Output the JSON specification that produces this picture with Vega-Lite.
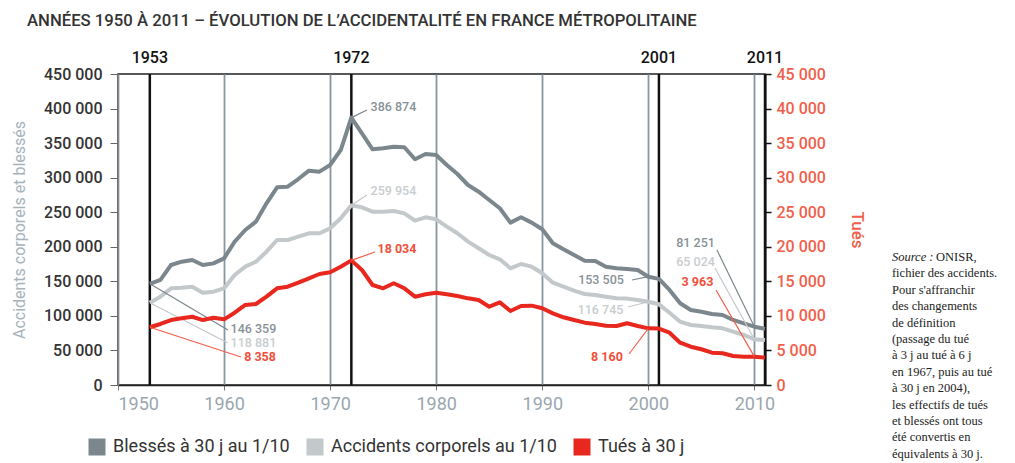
{
  "$schema": "https://vega.github.io/schema/vega-lite/v6.json",
  "width": 647,
  "height": 311,
  "autosize": "none",
  "padding": {"left": 118, "top": 74, "right": 250, "bottom": 78},
  "background": "white",
  "title": {
    "text": "ANNÉES 1950 À 2011 – ÉVOLUTION DE L’ACCIDENTALITÉ EN FRANCE MÉTROPOLITAINE",
    "anchor": "start",
    "frame": "group",
    "dx": -91,
    "offset": 20,
    "fontSize": 16.7,
    "fontWeight": 500,
    "color": "#333333",
    "font": "Roboto"
  },
  "config": {
    "font": "Roboto",
    "view": {"stroke": "#222222", "strokeWidth": 1.5},
    "axisY": {"tickCount": 10, "labelOverlap": false}
  },
  "datasets": {
    "main": [
      {"year": 1953, "Blessés à 30 j au 1/10": 146359, "Accidents corporels au 1/10": 118881, "Tués à 30 j": 8358},
      {"year": 1954, "Blessés à 30 j au 1/10": 152000, "Accidents corporels au 1/10": 127800, "Tués à 30 j": 8830},
      {"year": 1955, "Blessés à 30 j au 1/10": 173600, "Accidents corporels au 1/10": 139900, "Tués à 30 j": 9400},
      {"year": 1956, "Blessés à 30 j au 1/10": 178400, "Accidents corporels au 1/10": 140800, "Tués à 30 j": 9650},
      {"year": 1957, "Blessés à 30 j au 1/10": 180900, "Accidents corporels au 1/10": 142200, "Tués à 30 j": 9880},
      {"year": 1958, "Blessés à 30 j au 1/10": 173600, "Accidents corporels au 1/10": 133600, "Tués à 30 j": 9400},
      {"year": 1959, "Blessés à 30 j au 1/10": 176000, "Accidents corporels au 1/10": 135000, "Tués à 30 j": 9740},
      {"year": 1960, "Blessés à 30 j au 1/10": 183300, "Accidents corporels au 1/10": 139900, "Tués à 30 j": 9500},
      {"year": 1961, "Blessés à 30 j au 1/10": 207400, "Accidents corporels au 1/10": 159200, "Tués à 30 j": 10460},
      {"year": 1962, "Blessés à 30 j au 1/10": 224300, "Accidents corporels au 1/10": 171200, "Tués à 30 j": 11580},
      {"year": 1963, "Blessés à 30 j au 1/10": 236300, "Accidents corporels au 1/10": 178400, "Tués à 30 j": 11720},
      {"year": 1964, "Blessés à 30 j au 1/10": 262900, "Accidents corporels au 1/10": 192900, "Tués à 30 j": 12780},
      {"year": 1965, "Blessés à 30 j au 1/10": 286000, "Accidents corporels au 1/10": 209800, "Tués à 30 j": 13990},
      {"year": 1966, "Blessés à 30 j au 1/10": 287000, "Accidents corporels au 1/10": 209800, "Tués à 30 j": 14220},
      {"year": 1967, "Blessés à 30 j au 1/10": 298000, "Accidents corporels au 1/10": 214600, "Tués à 30 j": 14800},
      {"year": 1968, "Blessés à 30 j au 1/10": 310100, "Accidents corporels au 1/10": 219500, "Tués à 30 j": 15440},
      {"year": 1969, "Blessés à 30 j au 1/10": 308700, "Accidents corporels au 1/10": 219500, "Tués à 30 j": 16060},
      {"year": 1970, "Blessés à 30 j au 1/10": 318300, "Accidents corporels au 1/10": 226700, "Tués à 30 j": 16300},
      {"year": 1971, "Blessés à 30 j au 1/10": 340000, "Accidents corporels au 1/10": 241200, "Tués à 30 j": 17120},
      {"year": 1972, "Blessés à 30 j au 1/10": 386874, "Accidents corporels au 1/10": 259954, "Tués à 30 j": 18034},
      {"year": 1973, "Blessés à 30 j au 1/10": 364200, "Accidents corporels au 1/10": 257100, "Tués à 30 j": 16640},
      {"year": 1974, "Blessés à 30 j au 1/10": 341000, "Accidents corporels au 1/10": 250800, "Tués à 30 j": 14470},
      {"year": 1975, "Blessés à 30 j au 1/10": 342500, "Accidents corporels au 1/10": 250800, "Tués à 30 j": 13990},
      {"year": 1976, "Blessés à 30 j au 1/10": 344800, "Accidents corporels au 1/10": 251800, "Tués à 30 j": 14720},
      {"year": 1977, "Blessés à 30 j au 1/10": 344000, "Accidents corporels au 1/10": 248400, "Tués à 30 j": 13990},
      {"year": 1978, "Blessés à 30 j au 1/10": 326600, "Accidents corporels au 1/10": 237800, "Tués à 30 j": 12780},
      {"year": 1979, "Blessés à 30 j au 1/10": 334300, "Accidents corporels au 1/10": 242600, "Tués à 30 j": 13120},
      {"year": 1980, "Blessés à 30 j au 1/10": 332800, "Accidents corporels au 1/10": 239800, "Tués à 30 j": 13360},
      {"year": 1981, "Blessés à 30 j au 1/10": 318300, "Accidents corporels au 1/10": 229100, "Tués à 30 j": 13120},
      {"year": 1982, "Blessés à 30 j au 1/10": 305300, "Accidents corporels au 1/10": 219500, "Tués à 30 j": 12880},
      {"year": 1983, "Blessés à 30 j au 1/10": 289400, "Accidents corporels au 1/10": 207400, "Tués à 30 j": 12540},
      {"year": 1984, "Blessés à 30 j au 1/10": 279700, "Accidents corporels au 1/10": 197800, "Tués à 30 j": 12300},
      {"year": 1985, "Blessés à 30 j au 1/10": 267700, "Accidents corporels au 1/10": 188100, "Tués à 30 j": 11330},
      {"year": 1986, "Blessés à 30 j au 1/10": 255700, "Accidents corporels au 1/10": 181900, "Tués à 30 j": 11960},
      {"year": 1987, "Blessés à 30 j au 1/10": 234900, "Accidents corporels au 1/10": 168800, "Tués à 30 j": 10710},
      {"year": 1988, "Blessés à 30 j au 1/10": 242600, "Accidents corporels au 1/10": 175100, "Tués à 30 j": 11430},
      {"year": 1989, "Blessés à 30 j au 1/10": 234900, "Accidents corporels au 1/10": 171200, "Tués à 30 j": 11480},
      {"year": 1990, "Blessés à 30 j au 1/10": 225300, "Accidents corporels au 1/10": 161600, "Tués à 30 j": 11100},
      {"year": 1991, "Blessés à 30 j au 1/10": 205000, "Accidents corporels au 1/10": 148000, "Tués à 30 j": 10370},
      {"year": 1992, "Blessés à 30 j au 1/10": 196300, "Accidents corporels au 1/10": 142200, "Tués à 30 j": 9800},
      {"year": 1993, "Blessés à 30 j au 1/10": 188100, "Accidents corporels au 1/10": 136500, "Tués à 30 j": 9400},
      {"year": 1994, "Blessés à 30 j au 1/10": 179900, "Accidents corporels au 1/10": 131700, "Tués à 30 j": 9020},
      {"year": 1995, "Blessés à 30 j au 1/10": 179400, "Accidents corporels au 1/10": 130200, "Tués à 30 j": 8830},
      {"year": 1996, "Blessés à 30 j au 1/10": 171200, "Accidents corporels au 1/10": 127800, "Tués à 30 j": 8580},
      {"year": 1997, "Blessés à 30 j au 1/10": 168800, "Accidents corporels au 1/10": 125500, "Tués à 30 j": 8540},
      {"year": 1998, "Blessés à 30 j au 1/10": 167800, "Accidents corporels au 1/10": 125000, "Tués à 30 j": 8930},
      {"year": 1999, "Blessés à 30 j au 1/10": 166400, "Accidents corporels au 1/10": 123000, "Tués à 30 j": 8540},
      {"year": 2000, "Blessés à 30 j au 1/10": 156700, "Accidents corporels au 1/10": 120500, "Tués à 30 j": 8200},
      {"year": 2001, "Blessés à 30 j au 1/10": 153505, "Accidents corporels au 1/10": 116745, "Tués à 30 j": 8160},
      {"year": 2002, "Blessés à 30 j au 1/10": 137500, "Accidents corporels au 1/10": 104600, "Tués à 30 j": 7570},
      {"year": 2003, "Blessés à 30 j au 1/10": 118200, "Accidents corporels au 1/10": 91600, "Tués à 30 j": 6120},
      {"year": 2004, "Blessés à 30 j au 1/10": 108500, "Accidents corporels au 1/10": 86800, "Tués à 30 j": 5540},
      {"year": 2005, "Blessés à 30 j au 1/10": 106100, "Accidents corporels au 1/10": 85400, "Tués à 30 j": 5170},
      {"year": 2006, "Blessés à 30 j au 1/10": 102700, "Accidents corporels au 1/10": 83500, "Tués à 30 j": 4680},
      {"year": 2007, "Blessés à 30 j au 1/10": 101300, "Accidents corporels au 1/10": 82000, "Tués à 30 j": 4590},
      {"year": 2008, "Blessés à 30 j au 1/10": 94100, "Accidents corporels au 1/10": 77100, "Tués à 30 j": 4200},
      {"year": 2009, "Blessés à 30 j au 1/10": 89300, "Accidents corporels au 1/10": 72400, "Tués à 30 j": 4100},
      {"year": 2010, "Blessés à 30 j au 1/10": 84400, "Accidents corporels au 1/10": 66100, "Tués à 30 j": 4100},
      {"year": 2011, "Blessés à 30 j au 1/10": 81251, "Accidents corporels au 1/10": 65024, "Tués à 30 j": 3963}
    ],
    "marks": [{"year": 1953}, {"year": 1972}, {"year": 2001}, {"year": 2011}],
    "notesGray": [
      {"serie": "Blessés à 30 j au 1/10", "label": "386 874", "year": 1972, "value": 386874, "lyear": 1973.47, "lvalue": 397900, "tyear": 1975.97, "tvalue": 402250},
      {"serie": "Accidents corporels au 1/10", "label": "259 954", "year": 1972, "value": 259954, "lyear": 1973.47, "lvalue": 274900, "tyear": 1975.97, "tvalue": 280700},
      {"serie": "Blessés à 30 j au 1/10", "label": "146 359", "year": 1953, "value": 146359, "lyear": 1960.37, "lvalue": 79580, "tyear": 1962.77, "tvalue": 81030},
      {"serie": "Accidents corporels au 1/10", "label": "118 881", "year": 1953, "value": 118881, "lyear": 1960.37, "lvalue": 60770, "tyear": 1962.77, "tvalue": 61200},
      {"serie": "Blessés à 30 j au 1/10", "label": "153 505", "year": 2000, "value": 156700, "lyear": 1998.46, "lvalue": 151900, "tyear": 1995.54, "tvalue": 151900},
      {"serie": "Accidents corporels au 1/10", "label": "116 745", "year": 2000, "value": 120500, "lyear": 1998.08, "lvalue": 112900, "tyear": 1995.49, "tvalue": 108500},
      {"serie": "Blessés à 30 j au 1/10", "label": "81 251", "year": 2010, "value": 84400, "lyear": 2006.47, "lvalue": 195300, "tyear": 2004.45, "tvalue": 205000},
      {"serie": "Accidents corporels au 1/10", "label": "65 024", "year": 2010, "value": 66100, "lyear": 2006.28, "lvalue": 169300, "tyear": 2004.45, "tvalue": 177500}
    ],
    "notesRed": [
      {"label": "18 034", "year": 1972, "value": 18034, "lyear": 1974.23, "lvalue": 19240, "tyear": 1976.3, "tvalue": 19750},
      {"label": "8 358", "year": 1953, "value": 8358, "lyear": 1961.6, "lvalue": 4051, "tyear": 1963.39, "tvalue": 4095},
      {"label": "8 160", "year": 2000, "value": 8200, "lyear": 1998.18, "lvalue": 4486, "tyear": 1996.1, "tvalue": 4051},
      {"label": "3 963", "year": 2010, "value": 4100, "lyear": 2006.38, "lvalue": 13750, "tyear": 2004.63, "tvalue": 14860}
    ]
  },
  "layer": [
    {
      "layer": [
        {
          "data": {"name": "marks"},
          "mark": {"type": "rule", "color": "#111111", "strokeWidth": 2.5},
          "encoding": {
            "x": {
              "field": "year", "type": "quantitative",
              "scale": {"domain": [1950, 2011], "nice": false, "zero": false},
              "axis": {
                "values": [1950, 1960, 1970, 1980, 1990, 2000, 2010],
                "format": "d", "title": null, "labelOverlap": false,
                "grid": true, "gridColor": "#8796a0", "gridWidth": 1.8, "gridOpacity": 1,
                "domainColor": "#222222", "domainWidth": 1.5,
                "tickColor": "#777777", "tickSize": 5,
                "labelColor": "#9aa6ae", "labelFontSize": 18, "labelPadding": 5
              }
            },
            "y": {"datum": 0, "type": "quantitative"},
            "y2": {"datum": 450000}
          }
        },
        {
          "data": {"name": "marks"},
          "mark": {"type": "text", "fontSize": 16, "fontWeight": 500, "color": "#111111", "baseline": "alphabetic", "dy": -11},
          "encoding": {
            "x": {"field": "year", "type": "quantitative"},
            "y": {"datum": 450000, "type": "quantitative"},
            "text": {"field": "year", "type": "quantitative", "format": "d"}
          }
        },
        {
          "data": {"name": "main"},
          "transform": [{"fold": ["Blessés à 30 j au 1/10", "Accidents corporels au 1/10"], "as": ["serie", "value"]}],
          "mark": {"type": "line", "strokeWidth": 4, "strokeJoin": "round"},
          "encoding": {
            "x": {"field": "year", "type": "quantitative"},
            "y": {
              "field": "value", "type": "quantitative",
              "scale": {"domain": [0, 450000], "nice": false},
              "axis": {
                "values": [0, 50000, 100000, 150000, 200000, 250000, 300000, 350000, 400000, 450000],
                "tickCount": 10,
                "labelExpr": "replace(format(datum.value, ','), ',', ' ')",
                "labelOverlap": false, "labelFlush": false,
                "grid": false, "domainColor": "#8a8a8a", "tickColor": "#666666", "tickSize": 8,
                "labelColor": "#333333", "labelFontSize": 16, "labelFontWeight": 500, "labelPadding": 8,
                "title": "Accidents corporels et blessés", "titleColor": "#a7b3bb",
                "titleFontSize": 16, "titleFontWeight": "normal", "titlePadding": 16
              }
            },
            "color": {
              "field": "serie", "type": "nominal",
              "scale": {
                "domain": ["Blessés à 30 j au 1/10", "Accidents corporels au 1/10", "Tués à 30 j"],
                "range": ["#7b878d", "#c3c8cb", "#e8281e"]
              },
              "legend": {
                "orient": "none", "legendX": -30, "legendY": 364, "direction": "horizontal",
                "title": null, "symbolType": "square", "symbolSize": 289, "symbolStrokeWidth": 0,
                "labelFontSize": 18, "labelColor": "#333333", "labelOffset": 7, "columnPadding": 16,
                "labelLimit": 400,
                "encode": {"symbols": {"update": {"fill": {"scale": "color", "field": "value"}, "fillOpacity": {"value": 1}}}}
              }
            }
          }
        },
        {
          "data": {"name": "notesGray"},
          "mark": {"type": "rule", "strokeWidth": 1.2},
          "encoding": {
            "x": {"field": "year", "type": "quantitative"},
            "y": {"field": "value", "type": "quantitative"},
            "x2": {"field": "lyear"},
            "y2": {"field": "lvalue"},
            "color": {"field": "serie", "type": "nominal"}
          }
        },
        {
          "data": {"name": "notesGray"},
          "mark": {"type": "text", "fontSize": 12.5, "fontWeight": 500, "align": "center", "baseline": "middle", "opacity": 0.9},
          "encoding": {
            "x": {"field": "tyear", "type": "quantitative"},
            "y": {"field": "tvalue", "type": "quantitative"},
            "text": {"field": "label"},
            "color": {"field": "serie", "type": "nominal"}
          }
        },
        {
          "data": {"values": [{"t": "Source :"}]},
          "mark": {"type": "text", "font": "Liberation Serif", "fontSize": 12.5, "fontStyle": "italic", "color": "#222222", "align": "left", "baseline": "alphabetic"},
          "encoding": {
            "x": {"datum": 2022.97, "type": "quantitative"},
            "y": {"datum": 179400, "type": "quantitative"},
            "text": {"field": "t"}
          }
        },
        {
          "data": {"values": [{"t": "ONISR,"}]},
          "mark": {"type": "text", "font": "Liberation Serif", "fontSize": 12.5, "color": "#222222", "align": "left", "baseline": "alphabetic", "dx": 44},
          "encoding": {
            "x": {"datum": 2022.97, "type": "quantitative"},
            "y": {"datum": 179400, "type": "quantitative"},
            "text": {"field": "t"}
          }
        },
        {
          "data": {"values": [{"t": ["fichier des accidents.", "Pour s'affranchir", "des changements", "de définition", "(passage du tué", "à 3 j au tué à 6 j", "en 1967, puis au tué", "à 30 j en 2004),", "les effectifs de tués", "et blessés ont tous", "été convertis en", "équivalents à 30 j."]}]},
          "mark": {"type": "text", "font": "Liberation Serif", "fontSize": 12.5, "color": "#222222", "align": "left", "baseline": "alphabetic", "dy": 16.4, "lineHeight": 16.4},
          "encoding": {
            "x": {"datum": 2022.97, "type": "quantitative"},
            "y": {"datum": 179400, "type": "quantitative"},
            "text": {"field": "t"}
          }
        }
      ]
    },
    {
      "layer": [
        {
          "data": {"name": "main"},
          "mark": {"type": "line", "strokeWidth": 4, "strokeJoin": "round", "color": "#e8281e"},
          "encoding": {
            "x": {"field": "year", "type": "quantitative"},
            "y": {
              "field": "Tués à 30 j", "type": "quantitative",
              "scale": {"domain": [0, 45000], "nice": false},
              "axis": {
                "orient": "right",
                "values": [0, 5000, 10000, 15000, 20000, 25000, 30000, 35000, 40000, 45000],
                "tickCount": 10,
                "labelExpr": "replace(format(datum.value, ','), ',', ' ')",
                "labelOverlap": false, "labelFlush": false,
                "grid": false, "domainColor": "#111111", "domainWidth": 2,
                "tickColor": "#111111", "tickSize": 6, "tickWidth": 1.5,
                "labelColor": "#f0604a", "labelFontSize": 16, "labelFontWeight": 500, "labelPadding": 5,
                "title": "Tués", "titleColor": "#f0604a", "titleFontSize": 17, "titleFontWeight": 500, "titlePadding": 22
              }
            },
            "color": {"datum": "Tués à 30 j"}
          }
        },
        {
          "data": {"name": "notesRed"},
          "mark": {"type": "rule", "strokeWidth": 1.2, "color": "#f0604a"},
          "encoding": {
            "x": {"field": "year", "type": "quantitative"},
            "y": {"field": "value", "type": "quantitative"},
            "x2": {"field": "lyear"},
            "y2": {"field": "lvalue"}
          }
        },
        {
          "data": {"name": "notesRed"},
          "mark": {"type": "text", "fontSize": 12.5, "fontWeight": "bold", "align": "center", "baseline": "middle", "color": "#f0503c"},
          "encoding": {
            "x": {"field": "tyear", "type": "quantitative"},
            "y": {"field": "tvalue", "type": "quantitative"},
            "text": {"field": "label"}
          }
        }
      ]
    }
  ],
  "resolve": {"scale": {"y": "independent"}}
}
